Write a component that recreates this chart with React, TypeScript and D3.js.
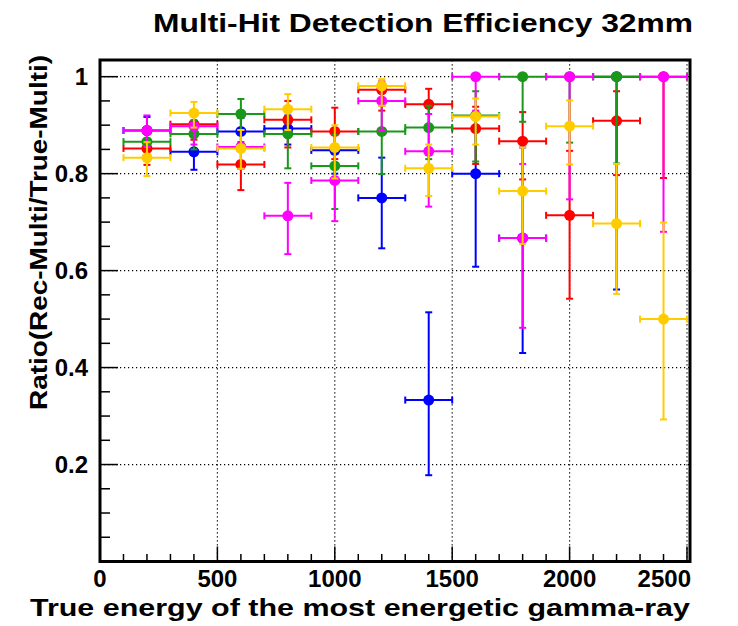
import React from "react";
import * as d3 from "d3";

const xCenters = [200, 400, 600, 800, 1000, 1200, 1400, 1600, 1800, 2000, 2200, 2400];
const binHalfWidth = 100;

type V = number | null;

const blueValues: V[] = [0.889, 0.845, 0.887, 0.893, 0.848, 0.75, 0.333, 0.8, 0.667, null, 1.0, null];
const blueLow: V[] = [0.855, 0.808, 0.855, 0.86, 0.8, 0.646, 0.178, 0.608, 0.43, null, 0.561, null];
const blueHigh: V[] = [0.917, 0.88, 0.915, 0.92, 0.89, 0.833, 0.514, 0.915, 0.854, null, 1.0, null];

const redValues: V[] = [0.852, 0.902, 0.819, 0.911, 0.887, 0.973, 0.943, 0.893, 0.867, 0.714, 0.909, 1.0];
const redLow: V[] = [0.818, 0.87, 0.766, 0.854, 0.83, 0.93, 0.89, 0.82, 0.788, 0.542, 0.797, 0.791];
const redHigh: V[] = [0.882, 0.93, 0.865, 0.95, 0.936, 0.99, 0.975, 0.938, 0.927, 0.847, 0.97, 1.0];

const greenValues: V[] = [0.866, 0.882, 0.923, 0.882, 0.816, 0.887, 0.895, 0.92, 1.0, 1.0, 1.0, null];
const greenLow: V[] = [0.83, 0.85, 0.89, 0.811, 0.727, 0.799, 0.83, 0.825, 0.907, 0.864, 0.821, null];
const greenHigh: V[] = [0.895, 0.91, 0.954, 0.93, 0.88, 0.94, 0.94, 0.97, 1.0, 1.0, 1.0, null];

const magentaValues: V[] = [0.889, 0.898, 0.855, 0.713, 0.786, 0.95, 0.846, 1.0, 0.667, 1.0, null, 1.0];
const magentaLow: V[] = [0.855, 0.86, 0.81, 0.634, 0.702, 0.89, 0.732, 0.93, 0.482, 0.747, null, 0.68];
const magentaHigh: V[] = [0.92, 0.93, 0.89, 0.781, 0.85, 0.98, 0.923, 1.0, 0.82, 1.0, null, 1.0];

const goldValues: V[] = [0.833, 0.925, 0.852, 0.933, 0.854, 0.981, 0.811, 0.918, 0.764, 0.898, 0.697, 0.5];
const goldLow: V[] = [0.795, 0.895, 0.81, 0.89, 0.79, 0.94, 0.754, 0.86, 0.655, 0.819, 0.552, 0.293];
const goldHigh: V[] = [0.865, 0.948, 0.89, 0.964, 0.9, 0.995, 0.86, 0.955, 0.854, 0.951, 0.82, 0.699];

const seriesList = [
  { name: "blue", color: "#0000ff", values: blueValues, low: blueLow, high: blueHigh },
  { name: "red", color: "#ff0000", values: redValues, low: redLow, high: redHigh },
  { name: "green", color: "#1a981a", values: greenValues, low: greenLow, high: greenHigh },
  { name: "magenta", color: "#ff00ff", values: magentaValues, low: magentaLow, high: magentaHigh },
  { name: "gold", color: "#ffcc00", values: goldValues, low: goldLow, high: goldHigh },
];

const xTickValues = [0, 500, 1000, 1500, 2000, 2500];
const yTickValues = [0.2, 0.4, 0.6, 0.8, 1];
const yTickLabels = ["0.2", "0.4", "0.6", "0.8", "1"];

const titleText = "Multi-Hit Detection Efficiency 32mm";
const xLabelText = "True energy of the most energetic gamma-ray";
const yLabelText = "Ratio(Rec-Multi/True-Multi)";

const W = 738;
const H = 626;
const left = 100;
const right = 687;
const top = 60;
const bottom = 561.5;
const FONT = "'Liberation Sans', Arial, Helvetica, sans-serif";

export default function App() {
  const x = d3.scaleLinear().domain([0, 2500]).range([left, right]);
  const y = d3.scaleLinear().domain([0, 1.0344]).range([bottom, top]);

  const xMinor = d3.range(0, 2501, 100);
  const yMinor = d3.range(0, 1.0344, 0.05);

  const cap = 3.5;

  return (
    <svg
      width={W}
      height={H}
      style={{ position: "absolute", left: 0, top: 0, background: "#fff" }}
      fontFamily={FONT}
    >
      <rect x={0} y={0} width={W} height={H} fill="#fff" />
      {/* grid */}
      <g stroke="#000" strokeWidth={1.2} strokeDasharray="1.2 2.8" fill="none">
        {[500, 1000, 1500, 2000, 2500].map((v) => (
          <line key={"gx" + v} x1={x(v)} x2={x(v)} y1={bottom} y2={top} />
        ))}
        {yTickValues.map((v) => (
          <line key={"gy" + v} x1={left} x2={right + 2} y1={y(v)} y2={y(v)} />
        ))}
      </g>
      {/* ticks */}
      <g stroke="#000" strokeWidth={1.5}>
        {xMinor.map((v) => {
          const major = v % 500 === 0;
          return (
            <line key={"tx" + v} x1={x(v)} x2={x(v)} y1={bottom} y2={bottom - (major ? 15 : 7.5)} />
          );
        })}
        {yMinor.map((v, i) => {
          const major = i % 4 === 0;
          return (
            <line key={"ty" + i} x1={left} x2={left + (major ? 18 : 10)} y1={y(v)} y2={y(v)} />
          );
        })}
      </g>
      {/* data */}
      {seriesList.map((s) => (
        <g key={s.name}>
          {xCenters.map((xc, i) => {
            const v = s.values[i];
            if (v === null) return null;
            const lo = s.low[i] as number;
            const hi = s.high[i] as number;
            const cx = x(xc);
            const cy = y(v);
            const x0 = x(xc - binHalfWidth);
            const x1 = x(xc + binHalfWidth);
            return (
              <g key={i} stroke={s.color} strokeWidth={2} fill="none">
                <line x1={x0} x2={x1} y1={cy} y2={cy} />
                <line x1={x0} x2={x0} y1={cy - cap} y2={cy + cap} />
                <line x1={x1} x2={x1} y1={cy - cap} y2={cy + cap} />
                {hi > v && <line x1={cx} x2={cx} y1={cy} y2={y(hi)} />}
                {hi > v && <line x1={cx - cap} x2={cx + cap} y1={y(hi)} y2={y(hi)} />}
                {lo < v && <line x1={cx} x2={cx} y1={cy} y2={y(lo)} />}
                {lo < v && <line x1={cx - cap} x2={cx + cap} y1={y(lo)} y2={y(lo)} />}
                <circle cx={cx} cy={cy} r={5.5} fill={s.color} stroke="none" />
              </g>
            );
          })}
        </g>
      ))}
      {/* frame */}
      <rect x={left} y={top} width={right - left + 3} height={bottom - top} fill="none" stroke="#000" strokeWidth={3} />
      {/* tick labels */}
      <g fontWeight="bold" fontSize={24} fill="#000">
        {xTickValues.map((v, i) => {
          const last = i === xTickValues.length - 1;
          return (
            <text
              key={"lx" + v}
              x={last ? right + 4 : x(v)}
              y={587}
              textAnchor={last ? "end" : "middle"}
            >
              {String(v)}
            </text>
          );
        })}
        {yTickValues.map((v, i) => (
          <text key={"ly" + v} x={88} y={y(v) + 8.5} textAnchor="end">
            {yTickLabels[i]}
          </text>
        ))}
      </g>
      {/* titles */}
      <text x={153} y={32} fontWeight="bold" fontSize={25} textLength={540} lengthAdjust="spacingAndGlyphs">
        {titleText}
      </text>
      <text x={30} y={616} fontWeight="bold" fontSize={24} textLength={660} lengthAdjust="spacingAndGlyphs">
        {xLabelText}
      </text>
      <text
        transform={`translate(47, 410) rotate(-90)`}
        x={0}
        y={0}
        fontWeight="bold"
        fontSize={24}
        textLength={355}
        lengthAdjust="spacingAndGlyphs"
      >
        {yLabelText}
      </text>
    </svg>
  );
}
